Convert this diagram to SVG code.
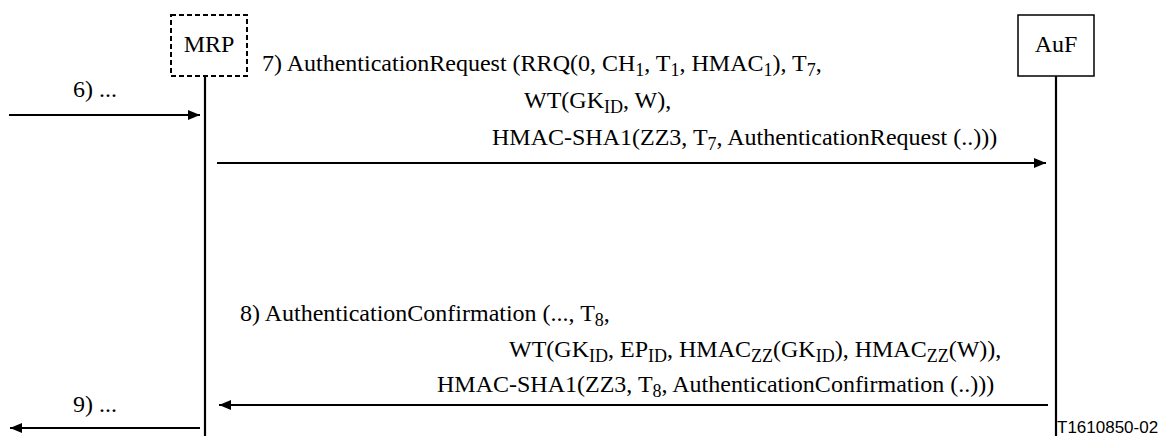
<svg xmlns="http://www.w3.org/2000/svg" width="1162" height="437" viewBox="0 0 1162 437">
<style>
text{font-family:"Liberation Serif","Times New Roman",serif;font-size:24px;fill:#000}
.s{font-size:18px}
.box{fill:#fff;stroke:#000;stroke-width:1.5}
.dash{stroke-dasharray:5 3;stroke-width:2}
.life{stroke:#000;stroke-width:2.2;fill:none}
.msg{stroke:#000;stroke-width:2.2;fill:none;marker-end:url(#ah)}
.code{font-family:"Liberation Sans",Arial,sans-serif;font-size:17px}
</style>
<defs>
<marker id="ah" viewBox="0 0 12 10" refX="12" refY="5" markerWidth="12" markerHeight="10" markerUnits="userSpaceOnUse" orient="auto">
<path d="M0,0L12,5L0,10z" fill="#000"/>
</marker>
</defs>
<g id="MRP">
<rect class="box dash" x="171" y="15" width="76" height="61"/>
<text x="209" y="52" text-anchor="middle">MRP</text>
<line class="life" x1="205" y1="76" x2="205" y2="436"/>
</g>
<g id="AuF">
<rect class="box" x="1018" y="15" width="76" height="61"/>
<text x="1056" y="52" text-anchor="middle">AuF</text>
<line class="life" x1="1056" y1="76" x2="1056" y2="436"/>
</g>
<g id="connectors">
<line class="msg" x1="9" y1="115" x2="200" y2="115"/>
<line class="msg" x1="217" y1="163" x2="1046" y2="163"/>
<line class="msg" x1="1048" y1="405" x2="219" y2="405"/>
<line class="msg" x1="200" y1="428" x2="10" y2="428"/>
</g>
<g id="labels">
<text x="73" y="97">6) ...</text>
<text x="262" y="71">7) AuthenticationRequest (RRQ(0, CH<tspan class="s" dy="5">1</tspan><tspan dy="-5">, T</tspan><tspan class="s" dy="5">1</tspan><tspan dy="-5">, HMAC</tspan><tspan class="s" dy="5">1</tspan><tspan dy="-5">), T</tspan><tspan class="s" dy="5">7</tspan><tspan dy="-5">,</tspan></text>
<text x="524" y="108">WT(GK<tspan class="s" dy="5">ID</tspan><tspan dy="-5">, W),</tspan></text>
<text x="492" y="145">HMAC-SHA1(ZZ3, T<tspan class="s" dy="5">7</tspan><tspan dy="-5">, AuthenticationRequest (..)))</tspan></text>
<text x="240" y="321">8) AuthenticationConfirmation (..., T<tspan class="s" dy="5">8</tspan><tspan dy="-5">,</tspan></text>
<text x="509" y="357">WT(GK<tspan class="s" dy="5">ID</tspan><tspan dy="-5">, EP</tspan><tspan class="s" dy="5">ID</tspan><tspan dy="-5">, HMAC</tspan><tspan class="s" dy="5">ZZ</tspan><tspan dy="-5">(GK</tspan><tspan class="s" dy="5">ID</tspan><tspan dy="-5">), HMAC</tspan><tspan class="s" dy="5">ZZ</tspan><tspan dy="-5">(W)),</tspan></text>
<text x="437" y="392">HMAC-SHA1(ZZ3, T<tspan class="s" dy="5">8</tspan><tspan dy="-5">, AuthenticationConfirmation (..)))</tspan></text>
<text x="73" y="412">9) ...</text>
<text class="code" x="1057" y="433">T1610850-02</text>
</g>
</svg>
